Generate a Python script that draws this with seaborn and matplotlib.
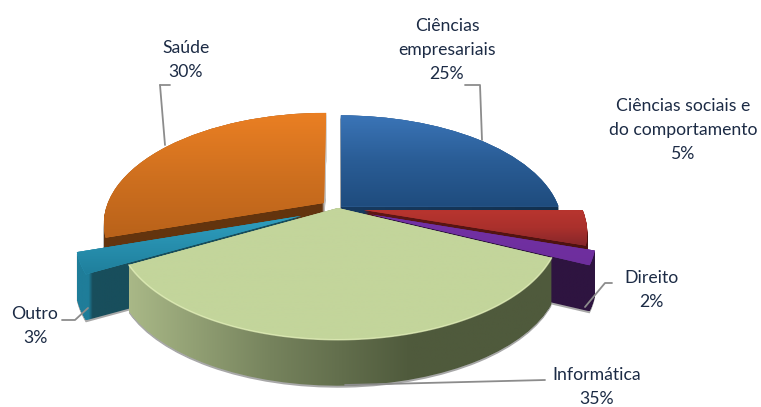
import numpy as np
import matplotlib
matplotlib.use("Agg")
import matplotlib.pyplot as plt
import matplotlib.transforms as mtransforms
from matplotlib.patches import PathPatch
from matplotlib.path import Path
import seaborn as sns

sns.set_theme(style="white")
plt.rcParams["font.family"] = ["Lato", "DejaVu Sans"]

# ------------------ data ------------------
areas = ["Ciências\nempresariais", "Ciências sociais e\ndo comportamento", "Direito",
         "Informática", "Outro", "Saúde"]
shares = [25, 5, 2, 35, 3, 30]
explode = [0.02, 0.12, 0.16, 0.0, 0.18, 0.08]

# top surface gradient (top to bottom), side gradient (left to right)
top_colors = [["#3b75b8", "#2a5d96", "#1f4c7e"], ["#b8352f", "#aa302c", "#86262a"],
              ["#7431a6", "#6d2e9c"], ["#c3d59b", "#c3d59b"],
              ["#2f9fc0", "#1f7f9c"], ["#ea7f23", "#cf701f", "#b9621a"]]
side_colors = [["#173a60", "#12304f"], ["#5e1715", "#4c1210"],
               ["#2e1440", "#2e1440"], ["#a9b887", "#76835d", "#4f5a3c", "#4f5a3c"],
               ["#1f7d99"] * 4 + ["#184e5c"] * 56,
               ["#63340e"] * 98 + ["#c4c4c4"] * 2]
draw_order = [5, 0, 1, 2, 4, 3]

CX, CY = 338, 208   # apex of the pie in pixels
RX, RY = 218, 108   # radius of the flat disc
K = 0.18            # perspective strength
DEPTH = 46


class Persp(mtransforms.Transform):
    input_dims = 2
    output_dims = 2

    def transform_non_affine(self, values):
        xy = np.asarray(values, dtype=float)
        w = 1 + K * xy[:, 1]
        return np.column_stack([CX + RX * xy[:, 0] / w, CY - RY * xy[:, 1] / w])


persp = Persp()

fig = plt.figure(figsize=(7.61, 4.07), dpi=100)
ax = fig.add_axes([0, 0, 1, 1])
wedges, _ = ax.pie(shares, explode=explode, startangle=90, counterclock=False, radius=1)


def gradient(path, colors, vertical, clip, clip_tr, z):
    (x0, y0), (x1, y1) = path.get_extents().get_points()
    ramp = np.linspace(0, 1, 256)
    arr = ramp[:, None] if vertical else ramp[None, :]
    cmap = sns.blend_palette(colors, as_cmap=True)
    im = ax.imshow(arr, cmap=cmap, extent=(x0, x1, y1, y0), origin="upper",
                   aspect="auto", zorder=z, vmin=0, vmax=1)
    im.set_clip_path(clip, clip_tr)
    return im


for order, i in enumerate(draw_order):
    w = wedges[i]
    flat = persp.transform_path(w.get_path())
    w.set_transform(persp + ax.transData)
    w.set_facecolor(top_colors[i][0])
    w.set_edgecolor("none")
    w.set_zorder(20 + order)

    # side of the slice: the top outline swept down
    layers = [Path(flat.vertices + [0, d], flat.codes) for d in np.arange(0, DEPTH + 1, 1.0)]
    sweep = Path.make_compound_path(*layers)
    shadow = Path(sweep.vertices + [0, 2], sweep.codes)
    ax.add_patch(PathPatch(shadow, fc="#a8a8a8", ec="none", zorder=1))
    gradient(sweep, side_colors[i], False, sweep, ax.transData, 2 + order)

    # top surface
    gradient(flat, top_colors[i], True, flat, ax.transData, 20 + order)

# light rim on the front slice
green = wedges[3]
theta = np.radians(np.linspace(green.theta1, green.theta2, 120))
rim = persp.transform(np.column_stack([np.cos(theta), np.sin(theta)]))
ax.plot(rim[:, 0], rim[:, 1], color="#e6f2bd", lw=1.1, alpha=0.7, zorder=30)

# ------------------ labels ------------------
TEXT_COLOR = "#1c2b45"
LINE_COLOR = "#8c8c8c"
label_pos = [(447, 50), (683, 130), (651, 290), (597, 387), (35, 326), (186, 60)]
for name, share, (x, y) in zip(areas, shares, label_pos):
    ax.text(x, y, f"{name}\n{share}%", ha="center", va="center", fontsize=12.7,
            color=TEXT_COLOR, linespacing=1.62, zorder=40)

leaders = [([465, 480, 482], [85, 85, 140]), ([612, 605, 585], [283, 283, 307]),
           ([545, 345], [380, 385]), ([62, 75, 88], [320, 320, 308]),
           ([160, 170], [85, 85]), ([160, 165], [85, 145])]
for xs, ys in leaders:
    ax.plot(xs, ys, color=LINE_COLOR, lw=1.3, zorder=15)

ax.set_xlim(0, 761)
ax.set_ylim(407, 0)
ax.set_aspect("auto")
ax.axis("off")
fig.savefig("out.png", dpi=100)
